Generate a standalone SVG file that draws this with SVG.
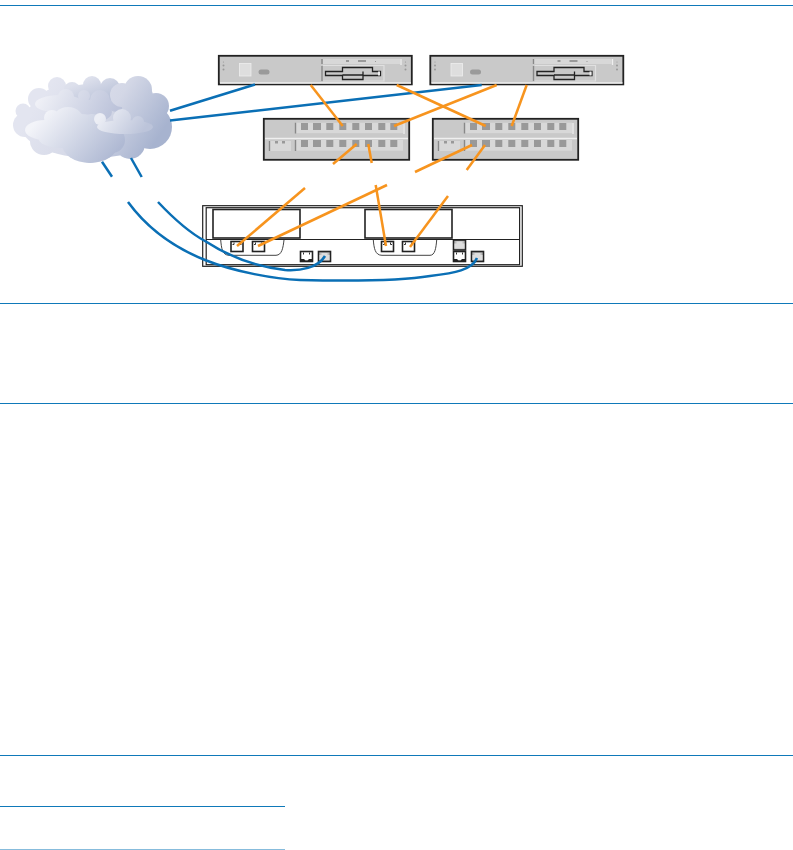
<svg xmlns="http://www.w3.org/2000/svg" width="793" height="850" viewBox="0 0 793 850">
<style>
.rule{stroke:#0f79b9;stroke-width:1;fill:none}
.case{fill:#c9c9c9;stroke:#222;stroke-width:1.8}
.hl{stroke:#efefef;stroke-width:1.3;fill:none}
.strip{fill:#d8d8d8}
.pg{fill:#999}
.mark{stroke:#888;stroke-width:1.4;fill:none}
.blk{fill:none;stroke:#222;stroke-width:1.3}
.port{fill:#fff;stroke:#222;stroke-width:1.6}
.plug{fill:none;stroke:#333;stroke-width:1}
.or{fill:none;stroke:#f7941e;stroke-width:2.5}
.bl{fill:none;stroke:#0a6fb5;stroke-width:2.5}
</style>
<defs>
<linearGradient id="c0" gradientUnits="userSpaceOnUse" x1="50" y1="85" x2="150" y2="150"><stop offset="0" stop-color="#e3e5f0"/><stop offset=".55" stop-color="#d3d7e6"/><stop offset="1" stop-color="#a7b3cf"/></linearGradient>
<linearGradient id="c1" gradientUnits="userSpaceOnUse" x1="85" y1="80" x2="100" y2="115"><stop offset="0" stop-color="#dde0ec"/><stop offset="1" stop-color="#a9b4cf"/></linearGradient>
<linearGradient id="c2" gradientUnits="userSpaceOnUse" x1="40" y1="95" x2="105" y2="130"><stop offset="0" stop-color="#f0f1f7"/><stop offset="1" stop-color="#bcc3da"/></linearGradient>
<linearGradient id="c3" gradientUnits="userSpaceOnUse" x1="45" y1="112" x2="105" y2="165"><stop offset="0" stop-color="#f3f4f9"/><stop offset="1" stop-color="#afb9d3"/></linearGradient>
<linearGradient id="c4" gradientUnits="userSpaceOnUse" x1="105" y1="110" x2="140" y2="135"><stop offset="0" stop-color="#eceef5"/><stop offset="1" stop-color="#bcc4da"/></linearGradient>
<g id="server">
<rect class="case" x="218.8" y="55.8" width="193" height="28.6"/>
<path class="hl" d="M220 83H411"/>
<g class="pg"><circle cx="223.5" cy="62" r=".6"/><circle cx="223.5" cy="65.5" r="1"/><circle cx="223.5" cy="69.5" r="1"/><circle cx="405.5" cy="62" r=".6"/><circle cx="405.5" cy="65.5" r="1"/><circle cx="405.5" cy="69.5" r="1"/></g>
<rect x="239.5" y="63.5" width="11.5" height="12.5" fill="#dedede" stroke="#eee" stroke-width=".8"/>
<rect x="258.5" y="69.5" width="11" height="5" rx="2.5" fill="#9a9a9a"/>
<path class="mark" d="M322 59V64M322 66V81"/>
<rect class="strip" x="323" y="59" width="77" height="5"/>
<path class="hl" d="M401 59V65"/>
<rect x="346" y="60" width="3" height="2" fill="#999"/><rect x="358" y="60" width="8" height="2" fill="#999"/><rect x="375" y="61" width="1" height="1" fill="#999"/>
<path d="M323 65.5H384V81H323" fill="none" stroke="#e0e0e0" stroke-width="1.2"/>
<path class="blk" d="M325.5 71.5H342.5V67.5H372.5V71.5H380.5V75.5H363V79.5H342.5V75.5H325.5Z"/>
<path class="blk" d="M342.5 75H363V71.5"/>
<rect x="378" y="71.5" width="2" height="4" fill="#eee"/>
</g>
<g id="switch">
<rect class="case" x="263.8" y="118.8" width="145.4" height="41"/>
<path class="hl" d="M265 138.5H408"/>
<rect class="strip" x="296" y="122.7" width="107" height="10.5"/>
<path class="hl" d="M404 123V134"/>
<rect class="strip" x="296" y="140" width="107" height="10.7"/>
<path class="mark" d="M295.5 122.7V133.5M295.5 140V151M269.5 141V151"/>
<rect class="strip" x="270.5" y="141" width="20.5" height="10"/>
<g class="pg">
<rect x="301" y="123" width="7" height="7"/><rect x="313" y="123" width="8" height="7"/><rect x="326.3" y="123" width="7" height="7"/><rect x="339.3" y="123" width="7" height="7"/><rect x="352.3" y="123" width="7" height="7"/><rect x="365" y="123" width="7" height="7"/><rect x="378.3" y="123" width="7" height="7"/><rect x="390.3" y="123" width="7" height="7"/>
<rect x="301" y="140" width="7" height="7"/><rect x="313" y="140" width="8" height="7"/><rect x="326.3" y="140" width="7" height="7"/><rect x="339.3" y="140" width="7" height="7"/><rect x="352.3" y="140" width="7" height="7"/><rect x="365" y="140" width="7" height="7"/><rect x="378.3" y="140" width="7" height="7"/><rect x="390.3" y="140" width="7" height="7"/>
<rect x="275" y="141" width="3" height="2.5"/><rect x="282" y="141" width="3" height="2.5"/>
</g>
</g>
<g id="rj">
<rect class="port" x="0" y="0" width="12" height="10"/>
<path class="plug" d="M3 1V3H1.5M9 1V3H10.5"/>
</g>
<g id="rjd">
<rect x="0" y="0" width="12" height="10" fill="#bbb" stroke="#222" stroke-width="1.6"/>
<path d="M1 8.5V3.5H3V1.5H9V3.5H11V8.5Z" fill="#ddd"/>
</g>
<g id="rjb">
<rect class="port" x="0" y="0" width="12" height="10"/>
<path d="M0 7.5H3.5L5 9H7L8.5 7.5H12V10H0Z" fill="#222"/>
<path class="plug" d="M3 1V3M9 1V3"/>
</g>
</defs>

<g id="rules">
<path class="rule" d="M0 5.5H793M0 303.5H793M0 403.5H793M0 755.5H793M0 806.5H285M0 850H285"/>
</g>

<g id="cloud">
<g fill="url(#c0)">
<ellipse cx="92" cy="124" rx="72" ry="34"/>
<circle cx="57" cy="86" r="9"/><circle cx="39" cy="99" r="11"/><circle cx="23" cy="111" r="7.5"/><circle cx="25" cy="125" r="12"/><circle cx="44" cy="141" r="14"/><circle cx="60" cy="115" r="28"/>
<circle cx="90" cy="148" r="15"/><circle cx="130" cy="144" r="15"/><circle cx="150" cy="127" r="22"/><circle cx="156" cy="106" r="13"/><circle cx="138" cy="90" r="14"/><circle cx="105" cy="120" r="36"/>
<circle cx="130" cy="112" r="24"/><ellipse cx="70" cy="140" rx="32" ry="14"/>
</g>
<g fill="url(#c1)">
<circle cx="72" cy="90" r="8"/><circle cx="92" cy="85" r="9"/><circle cx="110" cy="88" r="10"/><ellipse cx="90" cy="97" rx="30" ry="13"/>
</g>
<g fill="url(#c2)">
<ellipse cx="60" cy="104" rx="25" ry="9"/><circle cx="66" cy="97" r="8"/><circle cx="84" cy="96" r="6"/><circle cx="100" cy="100" r="10"/><ellipse cx="118" cy="105" rx="12" ry="7"/><ellipse cx="80" cy="112" rx="32" ry="13"/>
</g>
<g fill="url(#c0)"><circle cx="122" cy="95" r="12"/><circle cx="142" cy="96" r="11"/><circle cx="135" cy="108" r="13"/></g>
<g fill="url(#c3)">
<circle cx="52" cy="118" r="8"/><circle cx="68" cy="124" r="17"/><ellipse cx="45" cy="130" rx="20" ry="10"/><circle cx="92" cy="125" r="11"/><ellipse cx="90" cy="144" rx="28" ry="19"/><ellipse cx="60" cy="137" rx="22" ry="11"/><circle cx="112" cy="140" r="13"/><ellipse cx="80" cy="130" rx="28" ry="16"/>
</g>
<g fill="url(#c4)">
<circle cx="100" cy="119" r="6"/><circle cx="122" cy="118" r="9"/><circle cx="138" cy="122" r="6"/><ellipse cx="125" cy="127" rx="28" ry="7"/>
</g>
</g>

<g id="server-1"><use href="#server"/></g>
<g id="server-2"><use href="#server" x="211.5"/></g>
<g id="switch-1"><use href="#switch"/></g>
<g id="switch-2"><use href="#switch" x="169"/></g>

<g id="chassis">
<rect x="202.7" y="205.7" width="319.6" height="60.6" fill="#fff" stroke="#222" stroke-width="1.2"/>
<rect x="206.2" y="207.7" width="313.4" height="57" fill="#fff" stroke="#222" stroke-width="1.2"/>
<path d="M206 239.5H520" stroke="#222" stroke-width="1.2" fill="none"/>
<rect x="213" y="209.5" width="87" height="28.5" fill="#fff" stroke="#222" stroke-width="1.6"/>
<rect x="365" y="209.5" width="87" height="28.5" fill="#fff" stroke="#222" stroke-width="1.6"/>
<path d="M220.7 240C221.5 248 222 255 229 255.3H276C282 255 283 248 284 240" fill="none" stroke="#444" stroke-width="1"/>
<path d="M373.3 240C374 248 375 255.3 382 255.3H430C435 255.3 436 248 436.7 240" fill="none" stroke="#444" stroke-width="1"/>
</g>
<g id="port-1"><use href="#rj" x="231" y="241.5"/></g>
<g id="port-2"><use href="#rj" x="252.5" y="241.5"/></g>
<g id="port-3"><use href="#rjb" x="300.5" y="251.5"/></g>
<g id="port-4"><use href="#rjd" x="318.5" y="251.5"/></g>
<g id="port-5"><use href="#rj" x="381.5" y="241.5"/></g>
<g id="port-6"><use href="#rj" x="402.5" y="241.5"/></g>
<g id="port-7"><use href="#rjd" x="453.5" y="240"/></g>
<g id="port-8"><use href="#rjb" x="453.5" y="251.5"/></g>
<g id="port-9"><use href="#rjd" x="471.5" y="251.5"/></g>

<g id="connectors">
<path class="bl" d="M170 110.7L255 84.5"/>
<path class="bl" d="M170 120.5L481.7 85"/>
<path class="bl" d="M102 161.7L112 176.7"/>
<path class="bl" d="M131 158L141.7 177"/>
<path class="bl" d="M158 202C175 220 190 233 205 241C225 254 250 266 285 270C300 271 318 268 325 256"/>
<path class="bl" d="M128 202C150 232 180 250 205 260C235 272 275 279 300 280C345 281 400 281 430 276C455 273 472 270 477 258"/>
<path class="or" d="M310.7 85L342.7 126"/>
<path class="or" d="M396.7 85L485.7 126"/>
<path class="or" d="M496.7 85L394 126"/>
<path class="or" d="M526.7 85L511.7 126"/>
<path class="or" d="M356.7 144L333 164"/>
<path class="or" d="M305 188L237 246"/>
<path class="or" d="M472 145L415 172"/>
<path class="or" d="M387 185L258 246"/>
<path class="or" d="M368.3 144L371.7 163"/>
<path class="or" d="M375.7 185L386 246"/>
<path class="or" d="M485 145L466.7 170"/>
<path class="or" d="M448 196L410 247"/>
</g>
</svg>
